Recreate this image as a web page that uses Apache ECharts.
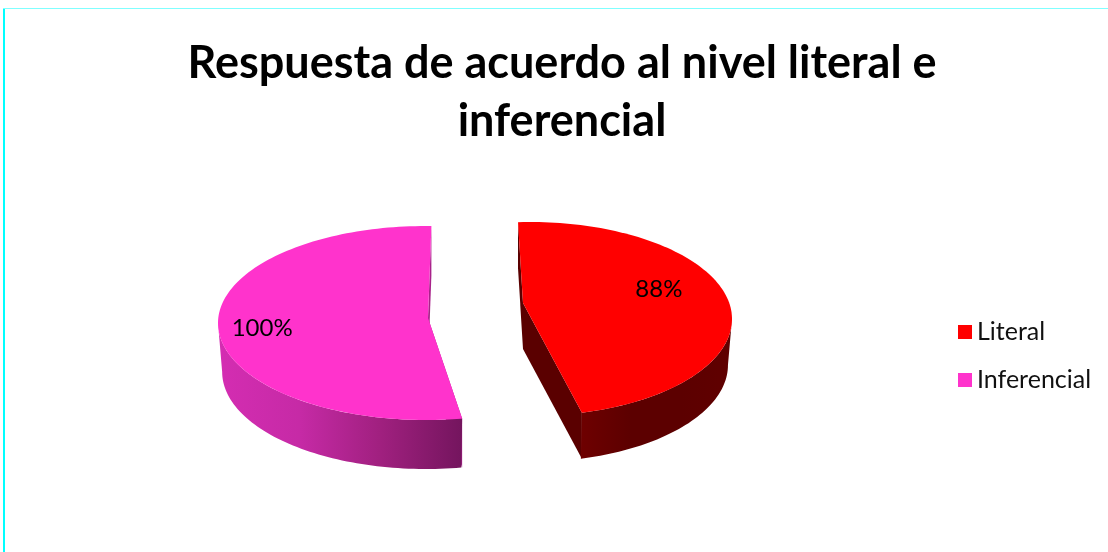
<!DOCTYPE html>
<html>
<head>
<meta charset="utf-8">
<style>html,body{margin:0;padding:0;background:#fff}#c{width:1108px;height:552px}</style>
<script src="https://cdn.jsdelivr.net/npm/echarts@6/dist/echarts.min.js"></script>
</head>
<body>
<div id="c"></div>
<script>
const titleText = 'Respuesta de acuerdo al nivel literal e\ninferencial';
const categories = ['Literal', 'Inferencial'];
const values = [88, 100];
const faceColors = ['#FF0000', '#FF33CC'];

// Layout of each exploded, tilted slice (projection parameters, not data)
const slices = [
  { cx: 530, cy: 319, rx: 202, ry: 97, tipX: 523, tipY: 303, depth: 46, start: -3.4, labelAngle: 64, labelR: 0.71,
    wall: ['#6E0000', '#5C0000', '#5C0000', '#600000'], inner: '#5A0000' },
  { cx: 426, cy: 323, rx: 208, ry: 97, tipX: 428, tipY: 318, depth: 49, start: 170, labelAngle: 265.75, labelR: 0.79,
    wall: ['#74155E', '#A0207F', '#C62AA6', '#D42DB2'], inner: '#A8228A' }
];
const total = values.reduce((a, b) => a + b, 0);

function renderSlice(index) {
  return function (params, api) {
    const s = slices[index];
    const sweep = api.value(0) / total * 360;
    const a0 = s.start, a1 = s.start + sweep;
    const P = (deg, scale, dy) => {
      const t = deg * Math.PI / 180;
      return [s.cx + s.rx * scale * Math.sin(t), s.cy - s.ry * Math.cos(t) + dy];
    };
    const arc = (from, to, scale, dy) => {
      const pts = [], n = Math.max(2, Math.ceil(Math.abs(to - from) / 1.5));
      for (let i = 0; i <= n; i++) pts.push(P(from + (to - from) * i / n, scale, dy));
      return pts;
    };
    const children = [];
    // Outer visible wall: the front half of the ellipse
    const w0 = Math.max(a0, 90), w1 = Math.min(a1, 270);
    const top = arc(w0, w1, 1, 0), bot = arc(w0, w1, 0.98, s.depth).reverse();
    const stops = s.wall.map((c, i) => ({ offset: i / (s.wall.length - 1), color: c }));
    // Inner cut walls
    const tip = [s.tipX, s.tipY], tipD = [s.tipX, s.tipY + s.depth];
    const pS = P(a0, 1, 0), pSD = P(a0, 1, s.depth), pE = P(a1, 1, 0), pED = P(a1, 1, s.depth);
    children.push({ type: 'polygon', shape: { points: [pS, tip, tipD, pSD] }, style: { fill: s.inner }, silent: true });
    children.push({ type: 'polygon', shape: { points: [pE, tip, tipD, pED] }, style: { fill: s.inner }, silent: true });
    children.push({
      type: 'polygon', shape: { points: top.concat(bot) }, silent: true,
      style: { fill: new echarts.graphic.LinearGradient(index === 1 ? 1 : 0, 0, index === 1 ? 0 : 1, 0, stops) }
    });
    // Top face
    children.push({
      type: 'polygon', shape: { points: [tip].concat(arc(a0, a1, 1, 0)) }, silent: true,
      style: { fill: faceColors[index] }
    });
    // Value label
    const lt = s.labelAngle * Math.PI / 180;
    children.push({
      type: 'text', silent: true,
      x: s.cx + s.rx * s.labelR * Math.sin(lt),
      y: s.cy - s.ry * s.labelR * Math.cos(lt),
      style: { text: api.value(0) + '%', textAlign: 'center', textVerticalAlign: 'middle', fill: '#000',
        font: '24px Lato' }
    });
    return { type: 'group', children };
  };
}

const chart = echarts.init(document.getElementById('c'), null, { renderer: 'canvas' });
chart.setOption({
  animation: false,
  backgroundColor: '#fff',
  color: faceColors,
  title: {
    text: titleText, left: 557, top: 29, textAlign: 'center',
    textStyle: { fontFamily: 'Lato', fontWeight: 'bold', fontSize: 45, lineHeight: 58, color: '#000' }
  },
  legend: {
    orient: 'vertical', left: 953, top: 313, itemWidth: 14, itemHeight: 14, itemGap: 20, icon: 'rect',
    data: categories, selectedMode: false,
    textStyle: { fontFamily: 'Lato', fontSize: 25, color: '#111', padding: [0, 0, 0, 0], lineHeight: 28 }
  },
  graphic: [
    { type: 'rect', shape: { x: 3, y: 8, width: 2, height: 544 }, style: { fill: '#00FFFF' }, silent: true },
    { type: 'rect', shape: { x: 3, y: 8, width: 1105, height: 1 }, style: { fill: '#80FFFF' }, silent: true }
  ],
  series: categories.map((name, i) => ({
    type: 'custom', name, coordinateSystem: 'none',
    itemStyle: { color: faceColors[i] },
    renderItem: renderSlice(i),
    data: [[values[i]]]
  }))
});
</script>
</body>
</html>
